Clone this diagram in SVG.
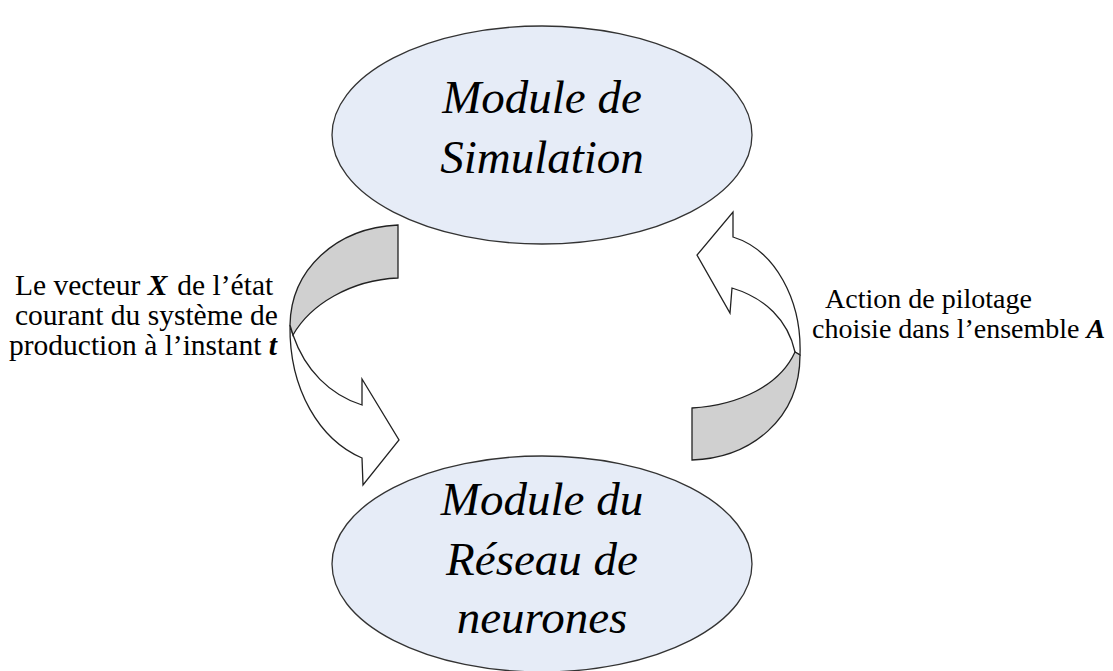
<svg xmlns="http://www.w3.org/2000/svg" width="1113" height="671" viewBox="0 0 1113 671">
<style>
.node{fill:#E6ECF7;stroke:#333;stroke-width:1.3}
.title{font-family:"Liberation Serif",serif;font-style:italic;font-size:47px;fill:#000;text-anchor:middle}
.lbl{font-family:"Liberation Serif",serif;font-size:28px;fill:#000}
.lblL{font-family:"Liberation Serif",serif;font-size:29.5px;fill:#000}
.body{fill:#fff;stroke:#222;stroke-width:1.3;stroke-linejoin:miter}
.band{fill:#D0D0D0;stroke:#222;stroke-width:1.3}
.bi{font-weight:bold;font-style:italic}
</style>
<rect width="1113" height="671" fill="#fff"/>
<g id="sim">
<ellipse class="node" cx="542" cy="135" rx="210" ry="109"/>
<text class="title" x="542" y="113">Module de</text>
<text class="title" x="542" y="173">Simulation</text>
</g>
<g id="reseau">
<ellipse class="node" cx="542" cy="564" rx="210" ry="108"/>
<text class="title" x="542" y="515">Module du</text>
<text class="title" x="542" y="575">Réseau de</text>
<text class="title" x="542" y="633">neurones</text>
</g>
<g id="connectors">
<g id="arrow-left">
<path class="body" d="M290,325 C289,390 320,440 362,458 L363,485 L399,440 L362,379 L362,405 C330,395 305,370 293,335 Z"/>
<path class="band" d="M398,225 C335,228 291,270 290,325 L293,335 C310,305 350,280 398,278 Z"/>
</g>
<g id="arrow-right">
<path class="body" d="M800,355 C802,300 775,250 733,237 L733,212 L697,255 L730,313 L732,288 C765,298 788,320 795,352 Z"/>
<path class="band" d="M795,352 C780,385 740,405 692,408 L692,460 C750,458 800,420 800,355 Z"/>
</g>
</g>
<g id="label-left">
<text class="lblL" x="15" y="295">Le vecteur <tspan class="bi">X</tspan><tspan dx="10">de l’état</tspan></text>
<text class="lblL" x="15" y="325">courant du système de</text>
<text class="lblL" x="9" y="355">production à l’instant <tspan class="bi">t</tspan></text>
</g>
<g id="label-right">
<text class="lbl" x="825" y="308">Action de pilotage</text>
<text class="lbl" x="812" y="338">choisie dans l’ensemble <tspan class="bi">A</tspan></text>
</g>
</svg>
